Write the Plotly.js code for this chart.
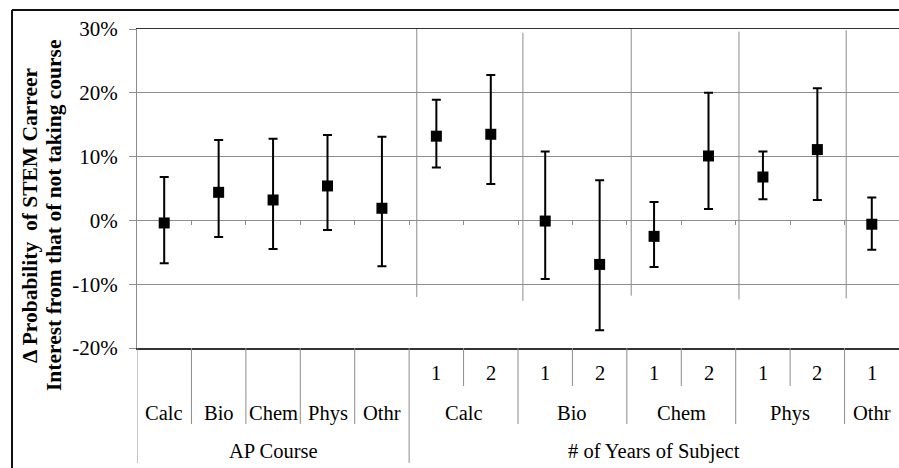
<!DOCTYPE html>
<html>
<head>
<meta charset="utf-8">
<script src="https://cdn.plot.ly/plotly-3.0.1.min.js"></script>
<style>html,body{margin:0;padding:0;background:#fff;}#chart{width:899px;height:468px;}</style>
</head>
<body>
<div id="chart"></div>
<script>
// ---- data ----
const apSubjects = ["Calc", "Bio", "Chem", "Phys", "Othr"];
const yrSubjects = ["Calc", "Calc", "Bio", "Bio", "Chem", "Chem", "Phys", "Phys", "Othr"];
const yrCounts = ["1", "2", "1", "2", "1", "2", "1", "2", "1"];
const groupTitles = ["AP Course", "# of Years of Subject"];
const estimate = [-0.4, 4.4, 3.2, 5.4, 1.9, 13.2, 13.5, -0.1, -6.9, -2.5, 10.1, 6.8, 11.1, -0.6];
const upper = [6.8, 12.6, 12.8, 13.4, 13.1, 18.9, 22.8, 10.8, 6.3, 2.9, 20.0, 10.8, 20.7, 3.6];
const lower = [-6.7, -2.6, -4.5, -1.5, -7.2, 8.3, 5.7, -9.2, -17.2, -7.3, 1.8, 3.3, 3.2, -4.6];
const yTicks = [-20, -10, 0, 10, 20, 30];
const yTitleLines = ["Δ Probability  of STEM Carreer", "Interest from that of not taking course"];

// ---- build ----
const nAP = apSubjects.length;
const nAll = nAP + yrSubjects.length;
const xIdx = estimate.map((_, i) => i);
const errPlus = upper.map((u, i) => +(u - estimate[i]).toFixed(2));
const errMinus = lower.map((l, i) => +(estimate[i] - l).toFixed(2));

const FONT = "Liberation Serif, Times New Roman, serif";
const GRID = "#8c8c8c";
const plotLeftPx = 137, plotW = 762;
const plotTopPx = 29, plotBotPx = 348;
const plotH = plotBotPx - plotTopPx;
const pyRow = px => (plotBotPx - px) / plotH; // pixel row to paper y
const pxCol = px => (px - plotLeftPx) / plotW; // pixel col to paper x

const rowYears = pyRow(373), rowSubj = pyRow(413), rowGroup = pyRow(451);
const depthYears = pyRow(386), depthSubj = pyRow(424), depthGroup = pyRow(463);
const LBL = {family: FONT, size: 20.5, color: '#000'};

const annotations = [];
const shapes = [];

apSubjects.forEach((s, i) => {
  annotations.push({x: i, y: rowSubj, xref: 'x', yref: 'paper', text: s, showarrow: false, font: LBL, yanchor: 'middle'});
});
yrCounts.forEach((c, j) => {
  annotations.push({x: nAP + j, y: rowYears, xref: 'x', yref: 'paper', text: c, showarrow: false, font: LBL, yanchor: 'middle'});
});
const subjGroups = [];
yrSubjects.forEach((s, j) => {
  const idx = nAP + j;
  const last = subjGroups[subjGroups.length - 1];
  if (last && last.name === s) last.end = idx; else subjGroups.push({name: s, start: idx, end: idx});
});
subjGroups.forEach(g => {
  annotations.push({x: (g.start + g.end) / 2, y: rowSubj, xref: 'x', yref: 'paper', text: g.name, showarrow: false, font: LBL, yanchor: 'middle'});
});
annotations.push({x: (0 + nAP - 1) / 2, y: rowGroup, xref: 'x', yref: 'paper', text: groupTitles[0], showarrow: false, font: LBL, yanchor: 'middle'});
annotations.push({x: (nAP + nAll - 1) / 2, y: rowGroup, xref: 'x', yref: 'paper', text: groupTitles[1], showarrow: false, font: LBL, yanchor: 'middle'});
// y title, two lines
const titleX = [30, 54];
yTitleLines.forEach((t, k) => {
  annotations.push({x: pxCol(titleX[k]), y: pyRow(215), xref: 'paper', yref: 'paper', text: t, showarrow: false, textangle: -90,
    font: {family: FONT, size: 21.5, color: '#000', weight: 'bold'}, xanchor: 'center', yanchor: 'middle'});
});

const vline = (x, yb) => ({type: 'line', xref: 'x', yref: 'paper', x0: x, x1: x, y0: 0, y1: yb,
  line: {color: GRID, width: 1}});
for (let i = 0; i < nAP - 1; i++) shapes.push(vline(i + 0.5, depthSubj));
shapes.push(vline(-0.5, depthGroup));
shapes.push(vline(nAP - 0.5, depthGroup));
yrSubjects.forEach((s, j) => {
  if (j === 0) return;
  shapes.push(vline(nAP + j - 0.5, s === yrSubjects[j - 1] ? depthYears : depthSubj));
});
const seps = [[4.64, -12.0, 30], [6.59, -12.6, 29.4], [8.58, -11.8, 30.3], [10.56, -12.4, 29.6], [12.53, -12.2, 29.8]];
seps.forEach(s => shapes.push({type: 'line', xref: 'x', yref: 'y', x0: s[0], x1: s[0], y0: s[1], y1: s[2],
  line: {color: GRID, width: 1}}));
shapes.push({type: 'line', xref: 'paper', yref: 'paper', x0: pxCol(12), x1: 1.05,
  y0: pyRow(10), y1: pyRow(10), line: {color: '#111', width: 2}});
shapes.push({type: 'line', xref: 'paper', yref: 'paper', x0: pxCol(12), x1: pxCol(12),
  y0: pyRow(10), y1: pyRow(480), line: {color: '#111', width: 2}});

const boundaries = xIdx.slice(0, nAll - 1).map(i => i + 0.5);

const traces = [
  {type: 'scatter', mode: 'markers', x: xIdx, y: estimate,
   marker: {symbol: 'square', size: 11, color: '#000'},
   error_y: {type: 'data', symmetric: false, array: errPlus, arrayminus: errMinus,
             color: '#000', thickness: 2, width: 4.5},
   hoverinfo: 'skip', showlegend: false},
  {type: 'scatter', mode: 'none', x: [0], y: [0], xaxis: 'x2', yaxis: 'y', hoverinfo: 'skip', showlegend: false}
];

const layout = {
  width: 899, height: 468,
  margin: {l: plotLeftPx, r: 0, t: plotTopPx, b: 468 - plotBotPx},
  paper_bgcolor: '#fff', plot_bgcolor: '#fff',
  showlegend: false,
  font: {family: FONT, size: 20, color: '#000'},
  xaxis: {type: 'linear', range: [-0.5, nAll - 0.5], showgrid: false, zeroline: false,
          showticklabels: false, ticks: '', showline: true, mirror: true,
          linecolor: '#333', linewidth: 1.5, fixedrange: true},
  xaxis2: {type: 'linear', overlaying: 'x', anchor: 'free', position: pyRow(220.3), side: 'bottom',
           range: [-0.5, nAll - 0.5], tickmode: 'array', tickvals: boundaries, ticks: 'outside',
           ticklen: 4, tickcolor: GRID, tickwidth: 1, showticklabels: false, showgrid: false,
           zeroline: false, showline: false},
  yaxis: {range: [-20, 30], tickmode: 'array', tickvals: yTicks, ticktext: yTicks.map(v => v + '%'),
          showgrid: true, gridcolor: GRID, gridwidth: 1, zeroline: false,
          showline: true, linecolor: GRID, linewidth: 1,
          ticks: 'outside', ticklen: 7, tickcolor: GRID, ticklabelstandoff: 7,
          tickfont: {family: FONT, size: 21, color: '#000'}, fixedrange: true},
  annotations: annotations,
  shapes: shapes
};

Plotly.newPlot('chart', traces, layout, {displayModeBar: false, staticPlot: true});
</script>
</body>
</html>
